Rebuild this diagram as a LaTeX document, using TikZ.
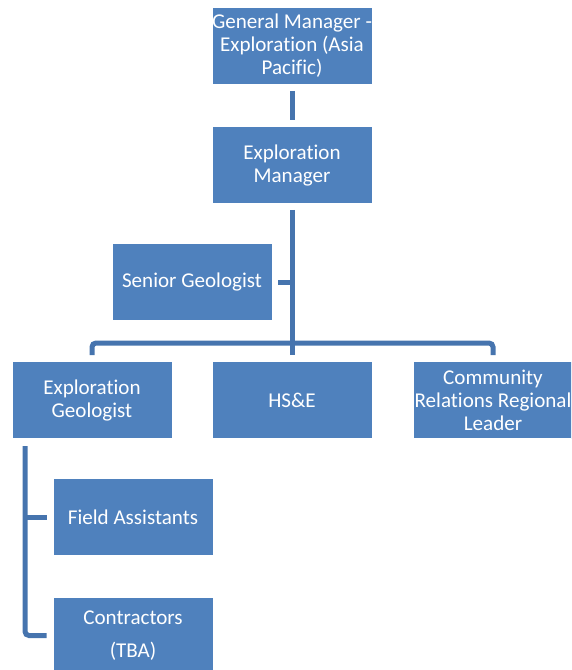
\documentclass[tikz,border=0pt]{standalone}
\usepackage{fontspec}
\setmainfont{Carlito}[Ligatures=NoCommon]
\usepackage{tikz}

\definecolor{boxblue}{HTML}{4F81BD}
\definecolor{lineblue}{HTML}{4674AE}

\tikzset{
    post/.style={draw=white, line width=0.4pt, fill=boxblue, text=white,
        minimum width=120pt, minimum height=57.75pt, inner sep=0pt,
        align=center, font=\fontsize{15.8}{17.25}\selectfont},
    link/.style={draw=lineblue, line width=3.75pt, shorten <=4.5pt, shorten >=4.5pt}
}

\begin{document}
\begin{tikzpicture}[x=0.75pt, y=-0.75pt]
        % Page frame
        \useasboundingbox (0,0) rectangle (571,670);
        \clip (0,0) rectangle (571,670);

        % Draw the posts
        \node[post] (gm) at (292,46) {General Manager -\\Exploration (Asia\\Pacific)};
        \node[post] (em) at (292,165) {Exploration\\Manager};
        \node[post] (sg) at (192,282) {Senior Geologist};
        \node[post] (eg) at (92,400) {Exploration\\Geologist};
        \node[post] (hse) at (292,400) {HS\&E};
        \node[post] (crl) at (493,400) {Community\\Relations Regional\\Leader};
        \node[post] (fa) at (133,517) {Field Assistants};
        \node[post] (con) at (133,635.5) {Contractors\\[7.5pt](TBA)};

        % Helper points
        \coordinate (bus) at (292,343); % Horizontal bar
        \coordinate (egl) at (25,438); % Left rail under geologist

        % Draw the links
        \draw[link] (gm) -- (em);
        \draw[link] (em.south) -- (hse.north); % Main trunk
        \draw[link, shorten >=0pt] (sg.east) -- (sg.east -| em.south);
        \draw[link, rounded corners=3pt] (eg.north) |- (bus) -| (crl.north);
        \draw[link, rounded corners=3pt, shorten <=6pt] (egl) |- (con.west);
        \draw[link, shorten >=0pt] (fa.west) -- (fa.west -| egl);

    \end{tikzpicture}
\end{document}
